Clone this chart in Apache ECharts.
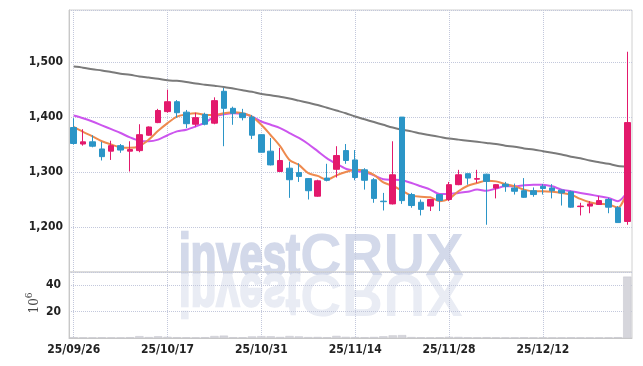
<!DOCTYPE html>
<html><head><meta charset="utf-8">
<script src="https://cdn.jsdelivr.net/npm/echarts@6/dist/echarts.min.js"></script>
<style>html,body{margin:0;padding:0;background:#fff}#c{width:643px;height:366px}</style>
</head><body><div id="c"></div>
<script>
const dates = ['25/09/26','25/09/29','25/09/30','25/10/01','25/10/02','25/10/10','25/10/13','25/10/14','25/10/15','25/10/16',
'25/10/17','25/10/20','25/10/21','25/10/22','25/10/23','25/10/24','25/10/27','25/10/28','25/10/29','25/10/30',
'25/10/31','25/11/03','25/11/04','25/11/05','25/11/06','25/11/07','25/11/10','25/11/11','25/11/12','25/11/13',
'25/11/14','25/11/17','25/11/18','25/11/19','25/11/20','25/11/21','25/11/24','25/11/25','25/11/26','25/11/27',
'25/11/28','25/12/01','25/12/02','25/12/03','25/12/04','25/12/05','25/12/08','25/12/09','25/12/10','25/12/11',
'25/12/12','25/12/15','25/12/16','25/12/17','25/12/18','25/12/19','25/12/22','25/12/23','25/12/24','25/12/26'];
const opens  = [1381,1351,1355,1342,1338,1348,1338,1339,1367,1390,1410,1428,1409,1387,1405,1389,1447,1416,1407,1400,
1368,1338,1301,1307,1299,1288,1256,1289,1305,1339,1322,1304,1286,1247,1242,1400,1259,1245,1238,1259,
1250,1277,1297,1287,1296,1271,1278,1271,1266,1266,1274,1271,1267,1264,1237,1238,1241,1250,1235,1210];
const closes = [1352,1355,1347,1328,1348,1340,1341,1368,1382,1412,1428,1408,1388,1399,1387,1430,1416,1407,1399,1367,
1336,1313,1321,1286,1292,1266,1284,1285,1330,1321,1290,1285,1252,1246,1295,1248,1239,1232,1250,1248,
1277,1295,1289,1288,1283,1277,1274,1265,1254,1259,1270,1266,1262,1236,1238,1242,1248,1236,1208,1390];
const lows   = [1350,1348,1345,1321,1322,1335,1301,1336,1366,1389,1408,1399,1380,1383,1385,1387,1347,1386,1394,1360,
1336,1312,1300,1253,1282,1250,1255,1283,1290,1315,1285,1268,1244,1230,1241,1242,1235,1221,1229,1229,
1247,1276,1277,1280,1204,1252,1264,1259,1253,1255,1259,1252,1239,1235,1221,1225,1240,1225,1208,1204];
const highs  = [1398,1378,1367,1355,1357,1351,1356,1387,1383,1415,1450,1431,1413,1408,1408,1436,1453,1419,1415,1404,
1368,1362,1344,1319,1316,1289,1286,1315,1347,1351,1340,1307,1289,1262,1356,1400,1262,1250,1251,1260,
1282,1304,1297,1304,1297,1278,1282,1279,1289,1272,1278,1278,1268,1266,1244,1247,1256,1253,1238,1519];
const ma5  = [1382,1373,1365,1356,1350,1345,1344,1347,1359,1375,1389,1401,1405,1407,1404,1404,1407,1409,1407,1401,
1386,1367,1347,1322,1313,1298,1293,1286,1294,1300,1304,1302,1295,1281,1275,1266,1257,1255,1254,1247,
1251,1265,1275,1280,1284,1283,1278,1274,1268,1265,1265,1264,1262,1259,1251,1245,1242,1241,1235,1266];
const ma20 = [1403,1398,1392,1385,1378,1371,1363,1357,1356,1359,1367,1374,1377,1383,1390,1401,1405,1407,1406,1401,
1392,1386,1380,1371,1362,1351,1338,1325,1315,1306,1302,1300,1294,1287,1286,1285,1280,1274,1268,1260,
1260,1262,1264,1268,1266,1270,1274,1274,1276,1277,1277,1274,1268,1265,1262,1259,1256,1253,1247,1264];
const ma60 = [1492,1490,1487,1485,1482,1479,1477,1474,1472,1470,1467,1466,1464,1461,1459,1457,1455,1452,1449,1446,
1442,1440,1437,1434,1430,1426,1422,1417,1412,1407,1401,1396,1391,1386,1381,1377,1374,1370,1367,1364,
1361,1359,1357,1355,1353,1351,1348,1346,1343,1341,1338,1335,1332,1328,1325,1321,1318,1315,1311,1310];
const volumes = [0.6,0.4,0.3,0.5,0.4,0.3,0.6,1.4,0.7,1.3,0.9,0.6,0.5,0.4,0.6,1.5,1.8,0.6,0.5,1.2,
1.4,1.3,0.8,1.5,1.2,0.7,0.8,0.6,1.6,0.9,0.7,0.6,0.8,1.3,2.0,2.2,0.7,0.5,0.4,0.5,
0.9,0.8,0.5,0.4,0.6,0.4,0.3,0.3,0.5,0.3,0.4,0.3,0.4,0.5,0.4,0.3,0.3,0.4,0.6,46.5];

const UP = '#e3196c', DOWN = '#2b95c7';
const FONT = "'Liberation Sans Narrow','DejaVu Sans Condensed',sans-serif";
const WM = "bold 59px 'Liberation Sans', Arial, sans-serif";
const candles = dates.map((d,i)=>[opens[i],closes[i],lows[i],highs[i]]);
const gridLine = {show:true, interval:9, alignWithLabel:true, lineStyle:{type:'dotted', color:'#c3c8dc', width:1}};

const chart = echarts.init(document.getElementById('c'));
chart.setOption({
  animation:false,
  backgroundColor:'#fff',
  graphic:[
    {type:'text', z:-10, x:179, y:229, scaleX:0.71, style:{text:'invest', fill:'#d3d9ea', stroke:'#d3d9ea', lineWidth:2.5, font:WM}},
    {type:'text', z:-10, x:300, y:229, scaleX:0.98, style:{text:'CRUX', fill:'#d3d9ea', font:WM}},
    {type:'text', z:-10, x:179, y:321, scaleX:0.71, scaleY:-1, style:{text:'invest', fill:'#e9ecf4', stroke:'#e9ecf4', lineWidth:2.5, font:WM}},
    {type:'text', z:-10, x:300, y:321, scaleX:0.98, scaleY:-1, style:{text:'CRUX', fill:'#e9ecf4', font:WM}},
    {type:'text', x:33, y:303, rotation:Math.PI/2, style:{text:'{a|10}{b|6}', align:'center', verticalAlign:'middle',
      rich:{a:{fontFamily:'DejaVu Serif', fontSize:12, fill:'#444', lineHeight:16, verticalAlign:'bottom'},
            b:{fontFamily:'DejaVu Serif', fontSize:9, fill:'#444', lineHeight:16, verticalAlign:'top'}}}}
  ],
  grid:[
    {left:69, right:11, top:10, height:262, show:true, borderColor:'#d0d0d0', borderWidth:1},
    {left:69, right:11, top:272, height:66, show:true, borderColor:'#d0d0d0', borderWidth:1}
  ],
  xAxis:[
    {type:'category', gridIndex:0, data:dates, boundaryGap:true, axisLine:{show:false}, axisTick:{show:false, alignWithLabel:true},
     axisLabel:{show:false, interval:9}, splitLine:gridLine},
    {type:'category', gridIndex:1, data:dates, boundaryGap:true, axisLine:{lineStyle:{color:'#c8c8c8'}}, axisTick:{show:false, alignWithLabel:true},
     axisLabel:{interval:9, color:'#222', fontFamily:FONT, fontWeight:'bold', fontSize:12, margin:6}, splitLine:gridLine}
  ],
  yAxis:[
    {type:'value', gridIndex:0, min:1118, max:1595, splitNumber:5, axisLine:{show:true, lineStyle:{color:'#c8c8c8'}}, axisTick:{show:false},
     axisLabel:{showMinLabel:false, showMaxLabel:false, color:'#222', fontFamily:FONT, fontWeight:'bold', fontSize:12, margin:6,
       formatter:v=>v.toLocaleString('en-US')},
     splitLine:{show:true, lineStyle:{type:'dotted', color:'#c3c8dc'}}},
    {type:'value', gridIndex:1, min:0, max:50, interval:20, axisLine:{show:true, lineStyle:{color:'#c8c8c8'}}, axisTick:{show:false},
     axisLabel:{showMinLabel:false, showMaxLabel:false, color:'#222', fontFamily:FONT, fontWeight:'bold', fontSize:12, margin:8},
     splitLine:{show:true, lineStyle:{type:'dotted', color:'#c3c8dc'}}}
  ],
  series:[
    {type:'line', xAxisIndex:0, yAxisIndex:0, data:ma60, symbol:'none', smooth:0.3, lineStyle:{color:'#7a7a7a', width:2}, z:3},
    {type:'line', xAxisIndex:0, yAxisIndex:0, data:ma20, symbol:'none', smooth:0.3, lineStyle:{color:'#cc55ee', width:2}, z:3},
    {type:'line', xAxisIndex:0, yAxisIndex:0, data:ma5, symbol:'none', smooth:0.3, lineStyle:{color:'#ee8a4e', width:2}, z:4},
    {type:'candlestick', xAxisIndex:0, yAxisIndex:0, data:candles, barWidth:6, z:5,
     itemStyle:{color:UP, color0:DOWN, borderColor:UP, borderColor0:DOWN, borderWidth:1}},
    {type:'bar', xAxisIndex:1, yAxisIndex:1, data:volumes, barCategoryGap:'12%',
     itemStyle:{color:'#d6d6dc', borderColor:'#c4c4cc', borderWidth:0.5}}
  ]
});
</script></body></html>
